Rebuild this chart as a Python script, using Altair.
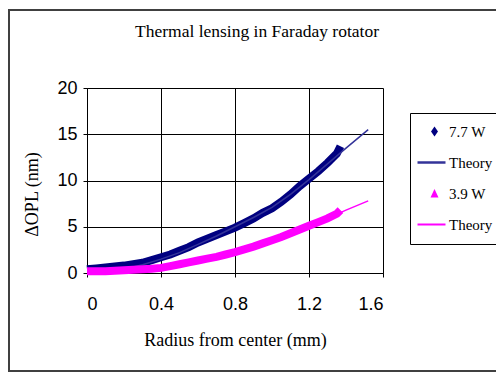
import altair as alt
import pandas as pd

# Measured 7.7 W
r_77 = [0.0, 0.05, 0.1, 0.15, 0.2, 0.25, 0.3, 0.35, 0.4, 0.45, 0.5, 0.55, 0.6, 0.65, 0.7,
        0.75, 0.8, 0.85, 0.9, 0.95, 1.0, 1.05, 1.1, 1.15, 1.2, 1.25, 1.3, 1.35, 1.37]
opl_77 = [0.4, 0.5, 0.6, 0.7, 0.8, 0.95, 1.1, 1.4, 1.7, 2.0, 2.4, 2.8, 3.3, 3.7, 4.1,
          4.5, 4.9, 5.4, 5.9, 6.5, 7.0, 7.7, 8.5, 9.4, 10.2, 11.0, 11.9, 12.9, 13.7]
# Measured 3.9 W
r_39 = [0.0, 0.05, 0.1, 0.15, 0.2, 0.25, 0.3, 0.35, 0.4, 0.45, 0.5, 0.55, 0.6, 0.65, 0.7,
        0.75, 0.8, 0.85, 0.9, 0.95, 1.0, 1.05, 1.1, 1.15, 1.2, 1.25, 1.3, 1.35, 1.37]
opl_39 = [0.2, 0.2, 0.2, 0.25, 0.3, 0.35, 0.4, 0.45, 0.55, 0.75, 0.95, 1.15, 1.35, 1.55, 1.75,
          2.0, 2.25, 2.55, 2.85, 3.2, 3.55, 3.9, 4.3, 4.7, 5.1, 5.5, 5.9, 6.4, 6.8]
# Theory curves
r_th = [0.0, 0.1, 0.2, 0.3, 0.4, 0.5, 0.6, 0.7, 0.8, 0.9, 1.0, 1.1, 1.2, 1.3, 1.4, 1.52]
th_77 = [0.0, 0.1, 0.4, 0.9, 1.5, 2.2, 3.1, 4.0, 5.0, 6.0, 7.1, 8.5, 10.1, 11.8, 13.5, 15.5]
th_39 = [0.0, 0.05, 0.15, 0.3, 0.55, 0.9, 1.3, 1.7, 2.2, 2.8, 3.5, 4.2, 5.0, 5.9, 6.8, 7.8]

series = ["7.7 W", "Theory A", "3.9 W", "Theory B"]
colors = ["#000080", "#333399", "#FF00FF", "#FF00FF"]
shapes = ["M1.2,-1L1.9,0L1.2,1L0.5,0Z", "M-2.2,-0.25H3.4V0.25H-2.2Z",
          "M1.2,-0.9L2,0.8L0.4,0.8Z", "M-2.2,-0.2H3.4V0.2H-2.2Z"]

m77 = pd.DataFrame({"r": r_77, "opl": opl_77})
m39 = pd.DataFrame({"r": r_39, "opl": opl_39})
t77 = pd.DataFrame({"r": r_th, "opl": th_77})
t39 = pd.DataFrame({"r": r_th, "opl": th_39})
legend_df = pd.DataFrame({"r": [0.0] * 4, "opl": [0.0] * 4, "series": series})

xs = alt.Scale(domain=[0, 1.6], nice=False)
ys = alt.Scale(domain=[0, 20], nice=False)
cs = alt.Scale(domain=series, range=colors)
ss = alt.Scale(domain=series, range=shapes)

X = alt.X("r:Q", scale=xs, axis=alt.Axis(
    values=[0, 0.4, 0.8, 1.2, 1.6], format=".1~f", labelExpr="datum.value == 0 ? '0' : datum.label",
    title="Radius from center (mm)", titleFont="Liberation Serif", titleFontSize=18,
    titleFontWeight="normal", titleY=67, titleBaseline="middle",
    labelFont="Liberation Sans", labelFontSize=18, labelPadding=18, tickSize=4,
    grid=True, gridColor="#000000", gridOpacity=1, domainColor="#000000",
    tickColor="#000000", labelColor="#000000", titleColor="#000000"))
Y = alt.Y("opl:Q", scale=ys, axis=alt.Axis(
    values=[0, 5, 10, 15, 20], title="ΔOPL (nm)", titleFont="Liberation Serif",
    titleFontSize=18, titleFontWeight="normal", titleX=-55, titleY=106,
    titleBaseline="middle", titleAlign="center", titleAngle=-90,
    labelFont="Liberation Sans", labelFontSize=18, labelPadding=6, tickSize=4,
    grid=True, gridColor="#000000", gridOpacity=1, domainColor="#000000",
    tickColor="#000000", labelColor="#000000", titleColor="#000000"))

frame = alt.Chart(pd.DataFrame({"a": [1]})).mark_rect(
    fillOpacity=0, stroke="#404040", strokeWidth=2).encode(
    x=alt.value(-78), x2=alt.value(520), y=alt.value(-78), y2=alt.value(283))

band_77 = alt.Chart(m77).mark_line(color="#000080", strokeWidth=8).encode(x=X, y=Y)
band_39 = alt.Chart(m39).mark_line(color="#FF00FF", strokeWidth=8).encode(x=X, y=Y)
theory_77 = alt.Chart(t77).mark_line(color="#333399", strokeWidth=1.5).encode(x=X, y=Y)
theory_39 = alt.Chart(t39).mark_line(color="#FF00FF", strokeWidth=1.5).encode(x=X, y=Y)

leg = alt.Legend(
    title=None, orient="none", legendX=323, legendY=25,
    strokeColor="#000000", fillColor="white", padding=11,
    symbolSize=100, symbolOpacity=1, symbolStrokeWidth=0,
    labelFont="Liberation Serif", labelFontSize=15, labelColor="#000000",
    labelOffset=13, rowPadding=15,
    labelExpr="indexof(datum.label, 'Theory') == 0 ? 'Theory' : datum.label")

legend_layer = alt.Chart(legend_df).mark_point(filled=True, opacity=0).encode(
    x=alt.X("r:Q", scale=xs), y=alt.Y("opl:Q", scale=ys),
    color=alt.Color("series:N", scale=cs, legend=leg),
    shape=alt.Shape("series:N", scale=ss, legend=leg),
)

chart = alt.layer(frame, band_77, theory_77, band_39, theory_39, legend_layer).properties(
    width=296, height=185,
    padding={"left": 79, "top": 80, "right": 113, "bottom": 100},
    autosize=alt.AutoSizeParams(type="none"),
    title=alt.TitleParams("Thermal lensing in Faraday rotator", font="Liberation Serif",
                          fontSize=17.5, fontWeight="normal", color="#000000",
                          dx=22, offset=-31, frame="group"),
).configure_view(stroke="#808080", strokeWidth=1).configure(background="white")

chart.save("out.html", embed_options={"renderer": "svg", "actions": False})
